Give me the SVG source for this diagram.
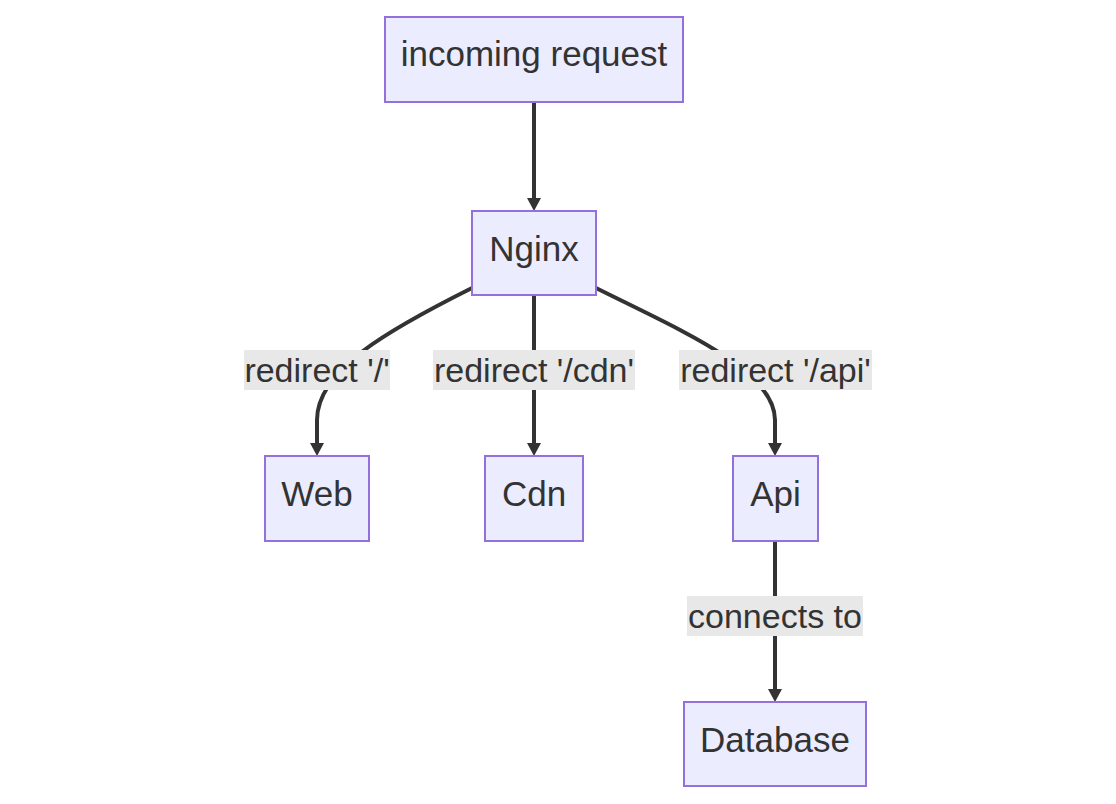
<svg xmlns="http://www.w3.org/2000/svg" width="1116" height="804" viewBox="0 0 1116 804">
<style>
.node rect{fill:#ECECFF;stroke:#9370DB;stroke-width:2}
.node text,.lbl text{font-family:"Liberation Sans",Arial,sans-serif;font-size:35px;fill:#333;text-anchor:middle}
.lbl text{font-size:34px}
.edge{fill:none;stroke:#333;stroke-width:4}
.lbl rect{fill:#e8e8e8}
</style>
<defs>
<marker id="arr" markerUnits="userSpaceOnUse" markerWidth="14" markerHeight="14" refX="1" refY="7" orient="auto">
<path d="M0,0 L13,7 L0,14 z" fill="#333"/>
</marker>
</defs>
<rect width="1116" height="804" fill="#fff"/>
<g id="connectors">
<path class="edge" d="M534,102 L534,199" marker-end="url(#arr)"/>
<path class="edge" d="M472,288 C388,330 317,370 317,420 L317,444" marker-end="url(#arr)"/>
<path class="edge" d="M534,295 L534,444" marker-end="url(#arr)"/>
<path class="edge" d="M596,288 C680,330 775,370 775,420 L775,444" marker-end="url(#arr)"/>
<path class="edge" d="M775,541 L775,690" marker-end="url(#arr)"/>
</g>
<g id="labels">
<g class="lbl" id="label-web"><rect x="244" y="350" width="146" height="40"/><text x="317" y="382">redirect '/'</text></g>
<g class="lbl" id="label-cdn"><rect x="433" y="350" width="202" height="40"/><text x="534" y="382">redirect '/cdn'</text></g>
<g class="lbl" id="label-api"><rect x="679" y="350" width="193" height="40"/><text x="775.5" y="382">redirect '/api'</text></g>
<g class="lbl" id="label-db"><rect x="687" y="596" width="176" height="40"/><text x="775" y="628">connects to</text></g>
</g>
<g class="node" id="incoming"><rect x="385" y="17" width="298" height="85"/><text x="534" y="66">incoming request</text></g>
<g class="node" id="nginx"><rect x="472" y="211" width="124" height="84"/><text x="534" y="261">Nginx</text></g>
<g class="node" id="web"><rect x="265" y="456" width="104" height="85"/><text x="317" y="506">Web</text></g>
<g class="node" id="cdn"><rect x="485" y="456" width="98" height="85"/><text x="534" y="506">Cdn</text></g>
<g class="node" id="api"><rect x="733" y="456" width="85" height="85"/><text x="775.5" y="506">Api</text></g>
<g class="node" id="database"><rect x="684" y="702" width="182" height="84"/><text x="775" y="752">Database</text></g>
</svg>
